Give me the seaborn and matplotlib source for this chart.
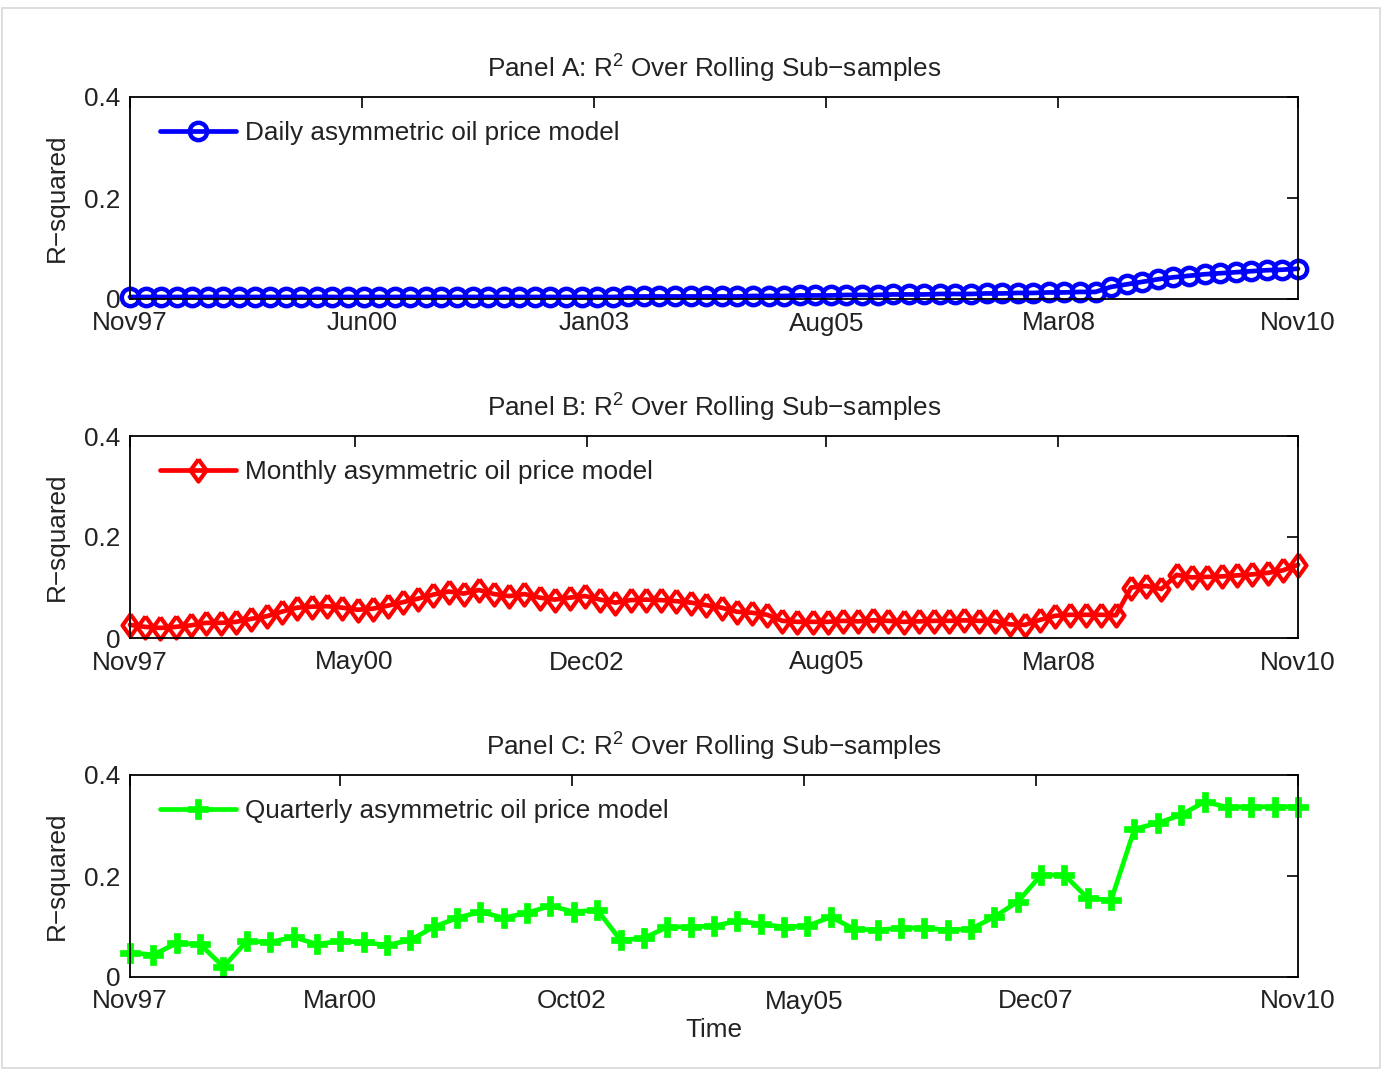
import numpy as np
import pandas as pd
import matplotlib
matplotlib.use("Agg")
import matplotlib.pyplot as plt
import matplotlib.patches as mpatches
import seaborn as sns

# ---------------- data ----------------
months_total = 156  # Nov97 -> Nov10, in months

daily_r2 = [
    0.004, 0.004, 0.004, 0.004, 0.004, 0.004, 0.004, 0.004, 0.004, 0.004,
    0.004, 0.004, 0.004, 0.004, 0.004, 0.004, 0.004, 0.004, 0.004, 0.004,
    0.004, 0.004, 0.004, 0.004, 0.004, 0.004, 0.004, 0.004, 0.004, 0.004,
    0.004, 0.004, 0.005, 0.005, 0.005, 0.005, 0.005,
    0.005, 0.005, 0.005, 0.006, 0.006, 0.006, 0.007, 0.007, 0.007, 0.008,
    0.008, 0.008, 0.009, 0.009, 0.009, 0.010, 0.010, 0.010, 0.011, 0.011,
    0.012, 0.012, 0.013, 0.013, 0.014, 0.014,
    0.024, 0.029, 0.034, 0.039, 0.043, 0.046, 0.049, 0.051, 0.053, 0.055,
    0.057, 0.058, 0.060,
]

monthly_r2 = [
    0.026, 0.022, 0.020, 0.022, 0.025, 0.030, 0.030, 0.032, 0.038, 0.043,
    0.052, 0.060, 0.062, 0.063, 0.060, 0.056, 0.058, 0.064, 0.071, 0.078,
    0.086, 0.092, 0.088, 0.095, 0.087, 0.083, 0.087, 0.080, 0.076, 0.080,
    0.083, 0.076, 0.070, 0.075, 0.076, 0.075, 0.073, 0.070, 0.065, 0.060,
    0.052, 0.050, 0.046, 0.034, 0.032, 0.032, 0.032, 0.034, 0.033, 0.035,
    0.034, 0.032, 0.033, 0.034, 0.034, 0.035, 0.034, 0.034, 0.027, 0.026,
    0.036, 0.044, 0.046, 0.046, 0.046, 0.045, 0.100, 0.103, 0.097, 0.125,
    0.120, 0.121, 0.122, 0.124, 0.126, 0.129, 0.134, 0.145,
]

quarterly_r2 = [
    0.048, 0.044, 0.067, 0.065, 0.020, 0.071, 0.069, 0.079, 0.065, 0.071,
    0.069, 0.063, 0.073, 0.099, 0.117, 0.129, 0.117, 0.127, 0.141, 0.129,
    0.133, 0.073, 0.077, 0.099, 0.099, 0.101, 0.111, 0.105, 0.099, 0.101,
    0.119, 0.095, 0.093, 0.097, 0.097, 0.093, 0.095, 0.119, 0.149, 0.202,
    0.202, 0.156, 0.152, 0.293, 0.305, 0.321, 0.347, 0.336, 0.337, 0.337,
    0.337,
]

series_labels = [
    "Daily asymmetric oil price model",
    "Monthly asymmetric oil price model",
    "Quarterly asymmetric oil price model",
]
panel_titles = [
    "Panel A: R$^2$ Over Rolling Sub\u2212samples",
    "Panel B: R$^2$ Over Rolling Sub\u2212samples",
    "Panel C: R$^2$ Over Rolling Sub\u2212samples",
]
# tick positions in months since Nov97, and labels
tick_months_a = [0, 31, 62, 93, 124, 156]
tick_labels_a = ["Nov97", "Jun00", "Jan03", "Aug05", "Mar08", "Nov10"]
tick_months_b = [0, 30, 61, 93, 124, 156]
tick_labels_b = ["Nov97", "May00", "Dec02", "Aug05", "Mar08", "Nov10"]
tick_months_c = [0, 28, 59, 90, 121, 156]
tick_labels_c = ["Nov97", "Mar00", "Oct02", "May05", "Dec07", "Nov10"]
y_ticks = [0, 0.2, 0.4]
y_tick_labels = ["0", "0.2", "0.4"]

# ---------------- style ----------------
sns.set_theme(style="white")
plt.rcParams["font.family"] = ["Liberation Sans", "DejaVu Sans"]
plt.rcParams["mathtext.default"] = "regular"
txt_color = "#222222"
fs = 18.8

W, H = 1382, 1070
fig = plt.figure(figsize=(W / 100, H / 100), dpi=100)
fig.patch.set_facecolor("white")

# light frame around the page
fig.add_artist(mpatches.Rectangle((2 / W, 2 / H), (W - 4) / W, (H - 10) / H,
                                  transform=fig.transFigure, fill=False,
                                  edgecolor="#d8d8d8", linewidth=1.2))

left = 130 / W
width = (1298 - 130) / W
panel_tops = [97, 436, 775]
ph = 202

tall_diamond = [(0, 1), (0.72, 0), (0, -1), (-0.72, 0), (0, 1)]

specs = [
    (daily_r2, "#0000ff", dict(marker="o", markersize=12.5, markerfacecolor="none",
                               markeredgewidth=3.2), tick_months_a, tick_labels_a),
    (monthly_r2, "#ff0000", dict(marker=tall_diamond, markersize=16, markerfacecolor="none",
                                 markeredgewidth=3.0), tick_months_b, tick_labels_b),
    (quarterly_r2, "#00ff00", dict(marker="P", markersize=14, markeredgewidth=0.5),
     tick_months_c, tick_labels_c),
]

for k, (vals, col, mk, tm, tl) in enumerate(specs):
    bottom = 1 - (panel_tops[k] + ph) / H
    ax = fig.add_axes([left, bottom, width, ph / H])
    n = len(vals)
    df = pd.DataFrame({"month": np.linspace(0, months_total, n), "r2": vals})
    sns.lineplot(data=df, x="month", y="r2", ax=ax, color=col, linewidth=3.4,
                 label=series_labels[k], markeredgecolor=col, **mk)
    for ln in ax.get_lines():
        ln.set_clip_on(False)
        ln.set_markerfacecolor("none" if k < 2 else col)
    ax.set_xlim(0, months_total)
    ax.set_ylim(0, 0.4)
    ax.set_xticks(tm)
    ax.set_xticklabels(tl)
    ax.set_yticks(y_ticks)
    ax.set_yticklabels(y_tick_labels)
    ax.tick_params(axis="both", direction="in", length=8, width=1.2,
                   top=True, right=True, labelsize=fs, colors="black",
                   labelcolor=txt_color)
    ax.tick_params(axis="x", pad=9)
    ax.tick_params(axis="y", pad=7)
    for sp in ax.spines.values():
        sp.set_visible(True)
        sp.set_color("black")
        sp.set_linewidth(1.3)
    ax.set_facecolor("white")
    ax.set_ylabel("R\u2212squared", fontsize=fs, color=txt_color, labelpad=11)
    ax.set_xlabel("Time" if k == 2 else "", fontsize=fs, color=txt_color, labelpad=3)
    ax.set_title(panel_titles[k], fontsize=fs, color=txt_color, pad=14)
    leg = ax.legend(loc="upper left", frameon=False, fontsize=fs, handlelength=2.9,
                    handletextpad=0.35, borderaxespad=0.3,
                    bbox_to_anchor=(0.01, 0.97))
    for t in leg.get_texts():
        t.set_color(txt_color)

fig.savefig("out.png", dpi=100, facecolor="white")
